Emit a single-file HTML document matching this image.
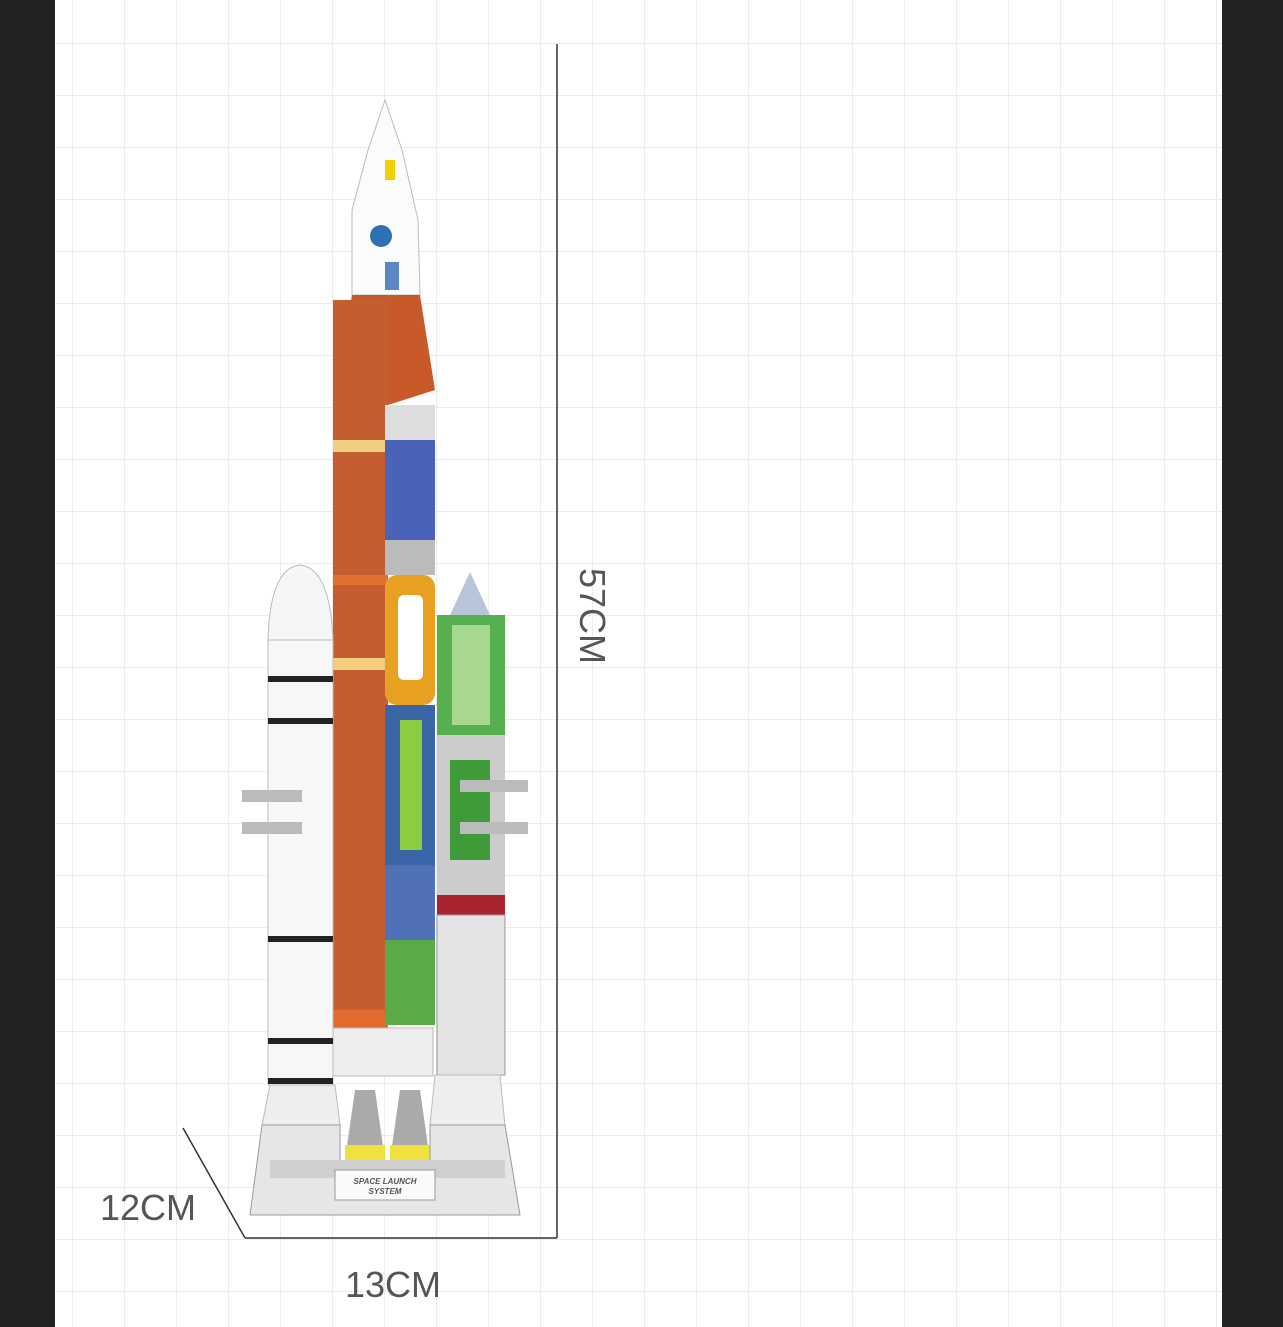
<!DOCTYPE html>
<html><head><meta charset="utf-8"><style>
html,body{margin:0;padding:0;background:#fff}
svg{display:block}
text{font-family:"Liberation Sans",sans-serif}
</style></head><body>
<svg width="1283" height="1327" viewBox="0 0 1283 1327" xmlns="http://www.w3.org/2000/svg">
<defs>
<pattern id="g" x="72" y="43" width="52" height="52" patternUnits="userSpaceOnUse">
<path d="M0 0H52M0 0V52" stroke="#ececec" stroke-width="2" fill="none"/>
</pattern>
</defs>
<rect width="1283" height="1327" fill="#fff"/>
<rect x="55" y="0" width="1167" height="1327" fill="url(#g)"/>
<rect x="0" y="0" width="55" height="1327" fill="#222"/>
<rect x="1222" y="0" width="61" height="1327" fill="#222"/>

<line x1="557" y1="44" x2="557" y2="1238" stroke="#333" stroke-width="1.5"/>
<line x1="245" y1="1238" x2="557" y2="1238" stroke="#333" stroke-width="1.5"/>
<line x1="183" y1="1128" x2="245" y2="1238" stroke="#333" stroke-width="1.5"/>
<text x="0" y="0" font-size="36" fill="#555" transform="translate(580,568) rotate(90)">57CM</text>
<text x="100" y="1220" font-size="36" fill="#555">12CM</text>
<text x="345" y="1297" font-size="36" fill="#555">13CM</text>

<polygon points="385,100 402,150 418,220 420,295 352,295 352,210 368,150" fill="#fbfbfb" stroke="#bbb"/>
<circle cx="381" cy="236" r="11" fill="#2f6fb3"/>
<rect x="385" y="160" width="10" height="20" fill="#f0d000"/>
<rect x="385" y="262" width="14" height="28" fill="#5a86c6"/>
<polygon points="352,295 420,295 435,390 388,405 333,405" fill="#c85a2a"/>
<rect x="333" y="300" width="55" height="730" fill="#c45e30"/>
<rect x="333" y="440" width="55" height="12" fill="#f0d080"/>
<rect x="333" y="575" width="55" height="10" fill="#e07030"/>
<rect x="333" y="658" width="55" height="12" fill="#f0d080"/>
<rect x="333" y="1010" width="55" height="18" fill="#e06a30"/>
<rect x="333" y="1028" width="100" height="48" fill="#eee" stroke="#bbb"/>
<rect x="385" y="405" width="50" height="35" fill="#ddd"/>
<rect x="385" y="440" width="50" height="100" fill="#4a62b8"/>
<rect x="385" y="540" width="50" height="35" fill="#bbb"/>
<rect x="385" y="575" width="50" height="130" fill="#e8a020" rx="12"/>
<rect x="398" y="595" width="25" height="85" fill="#fff" rx="6"/>
<rect x="385" y="705" width="50" height="160" fill="#3a66a8"/>
<rect x="400" y="720" width="22" height="130" fill="#8ccc40"/>
<rect x="385" y="865" width="50" height="75" fill="#5070b8"/>
<rect x="385" y="940" width="50" height="85" fill="#5aaa48"/>
<polygon points="470,572 490,615 450,615" fill="#b8c4d8"/>
<rect x="437" y="615" width="68" height="120" fill="#56b050"/>
<rect x="452" y="625" width="38" height="100" fill="#a8d890"/>
<rect x="437" y="735" width="68" height="160" fill="#ccc"/>
<rect x="450" y="760" width="40" height="100" fill="#3f9a3a"/>
<rect x="437" y="895" width="68" height="20" fill="#a82530"/>
<rect x="437" y="915" width="68" height="160" fill="#e4e4e4" stroke="#999"/>
<rect x="460" y="780" width="68" height="12" fill="#bbb"/>
<rect x="460" y="822" width="68" height="12" fill="#bbb"/>
<path d="M268 640 Q270 568 300 565 Q330 568 333 640 Z" fill="#f6f6f6" stroke="#bbb"/>
<rect x="268" y="640" width="65" height="445" fill="#f7f7f7" stroke="#bbb"/>
<rect x="268" y="676" width="65" height="6" fill="#222"/>
<rect x="268" y="718" width="65" height="6" fill="#222"/>
<rect x="268" y="936" width="65" height="6" fill="#222"/>
<rect x="268" y="1038" width="65" height="6" fill="#222"/>
<rect x="268" y="1078" width="65" height="6" fill="#222"/>
<rect x="242" y="790" width="60" height="12" fill="#bbb"/>
<rect x="242" y="822" width="60" height="12" fill="#bbb"/>
<polygon points="270,1085 335,1085 340,1125 262,1125" fill="#eee" stroke="#bbb"/>
<polygon points="435,1075 500,1075 505,1125 430,1125" fill="#eee" stroke="#bbb"/>
<polygon points="355,1090 375,1090 385,1160 345,1160" fill="#aaa"/>
<rect x="345" y="1145" width="40" height="20" fill="#f0e040"/>
<polygon points="400,1090 420,1090 430,1160 390,1160" fill="#aaa"/>
<rect x="390" y="1145" width="40" height="20" fill="#f0e040"/>
<polygon points="262,1125 340,1125 340,1170 430,1170 430,1125 505,1125 520,1215 250,1215" fill="#e6e6e6" stroke="#999"/>
<rect x="270" y="1160" width="235" height="18" fill="#cfcfcf"/>
<rect x="335" y="1170" width="100" height="30" fill="#fafafa" stroke="#999"/>
<text x="385" y="1184" font-size="8" font-style="italic" font-weight="bold" text-anchor="middle" fill="#555">SPACE LAUNCH</text>
<text x="385" y="1194" font-size="8" font-style="italic" font-weight="bold" text-anchor="middle" fill="#555">SYSTEM</text>
</svg>
</body></html>
